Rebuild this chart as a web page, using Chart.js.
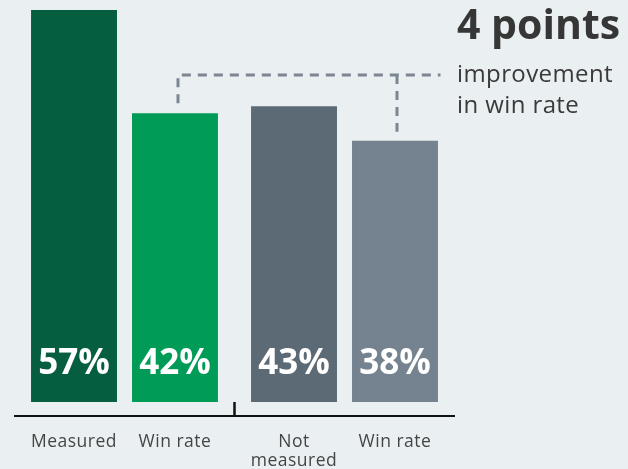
<!DOCTYPE html>
<html lang="en">
<head>
<meta charset="UTF-8">
<title>Win rate: measured vs not measured</title>
<style>
  html, body { margin: 0; padding: 0; background: #eaeff2; }
  #wrap { width: 628px; height: 469px; }
</style>
<script src="https://cdn.jsdelivr.net/npm/chart.js"></script>
</head>
<body>
<div id="wrap"><canvas id="chart"></canvas></div>
<script>
// two groups, two bars in each
const groups = ['Measured', 'Not measured'];
const firstValues = [57, 43];
const secondValues = [42, 38];
const firstLabels = [['Measured'], ['Not', 'measured']];
const secondLabels = [['Win rate'], ['Win rate']];
const firstColors = ['#055e3f', '#5c6a76'];
const secondColors = ['#009b56', '#74838f'];
const headline = '4 points';
const subline = ['improvement', 'in win rate'];

const FONT = '"Open Sans", sans-serif';

const decor = {
  id: 'decor',
  afterDatasetsDraw(chart) {
    const ctx = chart.ctx;
    const area = chart.chartArea;
    const xs = chart.scales.x;
    const ys = chart.scales.y;
    const zero = ys.getPixelForValue(0);
    const labelSets = [firstLabels, secondLabels];
    ctx.save();

    // values inside bars, category names under the axis
    chart.data.datasets.forEach((ds, di) => {
      chart.getDatasetMeta(di).data.forEach((bar, i) => {
        ctx.fillStyle = '#fff';
        ctx.font = 'bold 35px ' + FONT;
        ctx.textAlign = 'center';
        ctx.textBaseline = 'alphabetic';
        ctx.fillText(ds.data[i] + '%', bar.x, zero - 28);

        ctx.fillStyle = '#454545';
        ctx.font = '17.5px ' + FONT;
        ctx.letterSpacing = '0.5px';
        labelSets[di][i].forEach((line, li) => {
          ctx.fillText(line, bar.x, area.bottom + 31 + li * 19);
        });
        ctx.letterSpacing = '0px';
      });
    });

    // small tick between the two groups
    const mid = (xs.getPixelForTick(0) + xs.getPixelForTick(1)) / 2;
    ctx.strokeStyle = '#111';
    ctx.lineWidth = 2.5;
    ctx.beginPath();
    ctx.moveTo(mid, zero);
    ctx.lineTo(mid, area.bottom);
    ctx.stroke();

    // dashed connector between the two win-rate bars
    const b1 = chart.getDatasetMeta(1).data[0];
    const b2 = chart.getDatasetMeta(1).data[1];
    const lineY = area.top + 65;
    ctx.strokeStyle = '#7b8691';
    ctx.lineWidth = 3;
    ctx.setLineDash([9, 7]);
    ctx.beginPath();
    ctx.moveTo(b1.x + 3, b1.y - 10);
    ctx.lineTo(b1.x + 3, lineY);
    ctx.lineTo(area.right - 14, lineY);
    ctx.moveTo(b2.x + 2, lineY);
    ctx.lineTo(b2.x + 2, b2.y - 9);
    ctx.stroke();
    ctx.setLineDash([]);

    // annotation
    const tx = area.right + 2.5;
    ctx.textAlign = 'left';
    ctx.fillStyle = '#363636';
    ctx.font = 'bold 41px ' + FONT;
    ctx.fillText(headline, tx, area.top + 29);
    ctx.fillStyle = '#3a3a3a';
    ctx.font = '24px ' + FONT;
    ctx.letterSpacing = '0.4px';
    subline.forEach((line, i) => ctx.fillText(line, tx, area.top + 72 + i * 31));
    ctx.restore();
  }
};

new Chart(document.getElementById('chart'), {
  type: 'bar',
  data: {
    labels: groups,
    datasets: [
      { data: firstValues, backgroundColor: firstColors },
      { data: secondValues, backgroundColor: secondColors }
    ]
  },
  options: {
    responsive: true,
    maintainAspectRatio: false,
    animation: false,
    layout: { padding: { left: 14.5, right: 173.5, top: 10, bottom: 53 } },
    datasets: { bar: { categoryPercentage: 0.918, barPercentage: 0.851 } },
    plugins: { legend: { display: false }, tooltip: { enabled: false } },
    scales: {
      x: {
        grid: { display: false, drawTicks: false },
        ticks: { display: false },
        border: { display: true, color: '#111', width: 2 }
      },
      y: { display: false, min: -2.04, max: 57 }
    }
  },
  plugins: [decor]
});
</script>
</body>
</html>
